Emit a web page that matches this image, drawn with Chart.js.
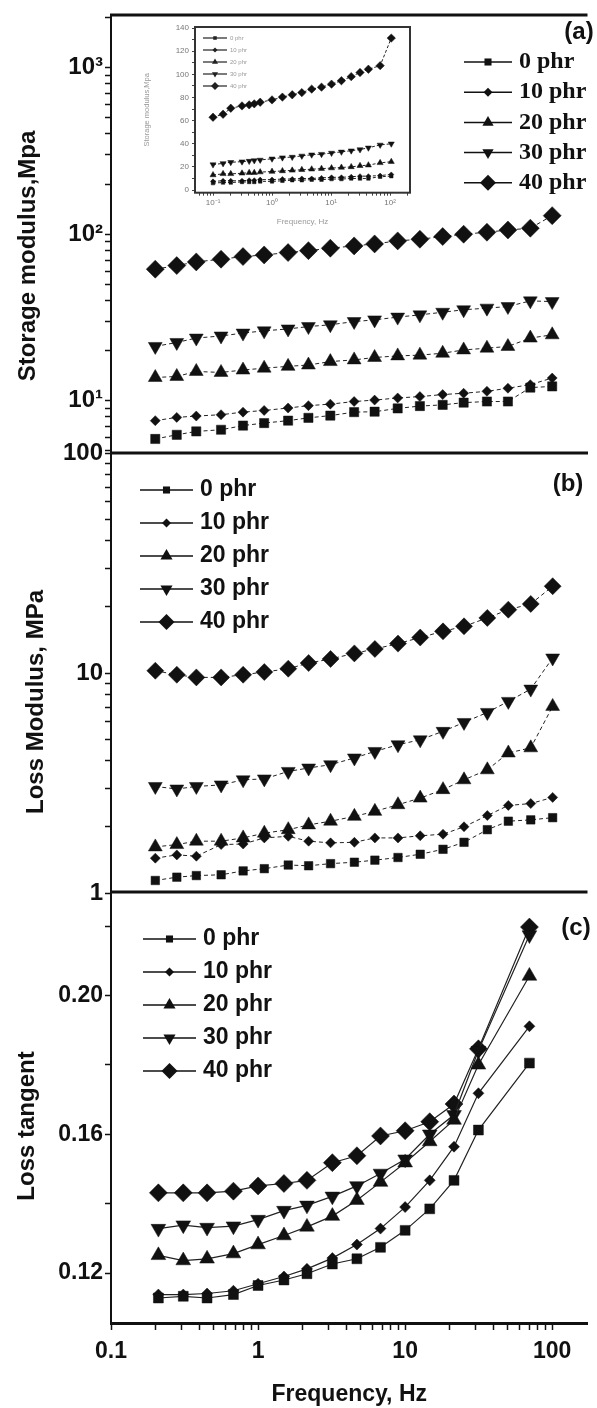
<!DOCTYPE html>
<html>
<head>
<meta charset="utf-8">
<script src="https://cdn.jsdelivr.net/npm/chart.js@4.4.1/dist/chart.umd.min.js"></script>
<style>
  html, body { margin: 0; padding: 0; background: #fff; }
  #wrap { position: relative; width: 597px; height: 1408px; overflow: hidden; }
  canvas { position: absolute; }
</style>
</head>
<body>
<div id="wrap">
  <canvas id="panelA" width="597" height="1408" style="left:0;top:0;width:597px;height:1408px"></canvas>
  <canvas id="panelB" width="597" height="1408" style="left:0;top:0;width:597px;height:1408px"></canvas>
  <canvas id="panelC" width="597" height="1408" style="left:0;top:0;width:597px;height:1408px"></canvas>
  <canvas id="inset" width="290" height="215" style="left:140px;top:20px;width:290px;height:215px"></canvas>
</div>
<script>
// frequencies (Hz)
var freqAB = [0.2, 0.28, 0.38, 0.56, 0.79, 1.1, 1.6, 2.2, 3.1, 4.5, 6.2, 8.9, 12.6, 18, 25, 36, 50, 71, 100];
var freqC = [0.21, 0.31, 0.45, 0.68, 1.0, 1.5, 2.15, 3.2, 4.7, 6.8, 10, 14.7, 21.5, 31.5, 70];
var insetFreq = [0.1, 0.148, 0.2, 0.31, 0.41, 0.5, 0.63, 1.0, 1.5, 2.2, 3.2, 4.7, 6.9, 10.2, 15, 22, 31, 43, 68, 105];

var seriesLabels = ['0 phr', '10 phr', '20 phr', '30 phr', '40 phr'];

// (a) storage modulus, MPa
var storage0 = [5.9, 6.25, 6.55, 6.7, 7.1, 7.35, 7.6, 7.9, 8.15, 8.55, 8.6, 9.0, 9.3, 9.45, 9.75, 9.9, 9.9, 12.0, 12.2];
var storage10 = [7.6, 7.95, 8.1, 8.25, 8.55, 8.75, 9.05, 9.35, 9.55, 9.9, 10.1, 10.4, 10.6, 10.9, 11.1, 11.4, 11.9, 12.5, 13.7];
var storage20 = [13.8, 14.0, 15.0, 14.8, 15.3, 15.7, 16.1, 16.4, 17.2, 17.6, 18.2, 18.6, 18.8, 19.3, 20.2, 20.7, 21.2, 23.8, 24.9];
var storage30 = [21.2, 22.4, 23.8, 24.5, 25.5, 26.3, 27.0, 27.9, 28.6, 29.9, 30.6, 31.8, 32.8, 34.0, 35.2, 36.0, 36.8, 39.8, 39.4];
var storage40 = [61.7, 64.8, 68.2, 70.8, 73.4, 75.1, 77.6, 79.7, 82.4, 85.1, 87.5, 91.2, 93.3, 96.8, 100, 102.8, 106, 108.7, 129.3];

// (b) loss modulus, MPa
var loss0 = [1.14, 1.18, 1.20, 1.21, 1.26, 1.29, 1.34, 1.33, 1.36, 1.38, 1.41, 1.45, 1.50, 1.58, 1.70, 1.94, 2.12, 2.15, 2.2];
var loss10 = [1.44, 1.49, 1.47, 1.66, 1.67, 1.78, 1.81, 1.72, 1.69, 1.70, 1.78, 1.78, 1.82, 1.85, 2.0, 2.25, 2.5, 2.55, 2.72];
var loss20 = [1.62, 1.66, 1.72, 1.72, 1.78, 1.87, 1.94, 2.04, 2.12, 2.23, 2.35, 2.52, 2.70, 2.95, 3.27, 3.63, 4.33, 4.57, 7.05];
var loss30 = [3.05, 2.97, 3.05, 3.10, 3.27, 3.3, 3.57, 3.70, 3.83, 4.11, 4.40, 4.72, 4.97, 5.43, 5.96, 6.62, 7.43, 8.45, 11.7];
var loss40 = [10.24, 9.82, 9.55, 9.55, 9.82, 10.1, 10.46, 11.1, 11.58, 12.28, 12.86, 13.6, 14.5, 15.46, 16.3, 17.8, 19.4, 20.6, 24.8];

// (c) loss tangent
var tan0 = [0.1128, 0.1133, 0.1128, 0.1138, 0.1164, 0.1180, 0.1198, 0.1226, 0.1241, 0.1274, 0.1323, 0.1385, 0.1467, 0.1612, 0.1805];
var tan10 = [0.1138, 0.1138, 0.1141, 0.1149, 0.1169, 0.1190, 0.1212, 0.1243, 0.1282, 0.1328, 0.1390, 0.1467, 0.1564, 0.1718, 0.1911];
var tan20 = [0.1251, 0.1236, 0.1241, 0.1256, 0.1282, 0.1308, 0.1333, 0.1364, 0.1410, 0.1462, 0.1518, 0.1579, 0.1641, 0.1800, 0.2056];
var tan30 = [0.1328, 0.1338, 0.1331, 0.1335, 0.1354, 0.1380, 0.1395, 0.1421, 0.1451, 0.1487, 0.1528, 0.1600, 0.1656, 0.1841, 0.2174];
var tan40 = [0.1431, 0.1431, 0.1431, 0.1436, 0.1451, 0.1458, 0.1467, 0.1518, 0.1538, 0.1595, 0.1610, 0.1636, 0.1687, 0.1846, 0.2197];

// inset (storage modulus, linear axis)
var inset0 = [6, 6.5, 6.5, 7, 7, 7, 7.5, 7.5, 8, 8.5, 8.5, 9, 9, 9.5, 9.5, 10, 10, 10, 11.5, 12];
var inset10 = [7.5, 8, 8, 8, 8.5, 8.5, 9, 9, 9.5, 9.5, 10, 10, 10.5, 11, 11, 11.5, 12, 12, 12.5, 13.5];
var inset20 = [13, 14, 14, 14.5, 15, 15, 15.5, 16, 16.5, 17, 17.5, 18, 18.5, 19, 19.5, 20, 21, 21.5, 23.5, 24.5];
var inset30 = [22, 23, 24, 24.5, 25, 25.5, 26, 27, 28, 28.5, 29.5, 30.5, 31, 32, 33, 34, 35, 36.5, 39, 40];
var inset40 = [62.9, 65.5, 70.7, 72.7, 73.6, 74.5, 75.9, 77.9, 80.3, 82.3, 84.2, 87.2, 88.9, 91.5, 94.5, 98, 101.6, 104.4, 107.5, 131.3];

// tick positions and labels
var xTicks = [0.1, 0.2, 0.3, 0.4, 0.5, 0.6, 0.7, 0.8, 0.9, 1, 2, 3, 4, 5, 6, 7, 8, 9, 10, 20, 30, 40, 50, 60, 70, 80, 90, 100];
var xMajor = [0.1, 1, 10, 100];
var xLabels = ['0.1', '1', '10', '100'];
var aTicks = [5, 6, 7, 8, 9, 10, 20, 30, 40, 50, 60, 70, 80, 90, 100, 200, 300, 400, 500, 600, 700, 800, 900, 1000, 2000];
var aMajor = [10, 100, 1000];
var aLabels = ['10¹', '10²', '10³'];
var bTicks = [1, 2, 3, 4, 5, 6, 7, 8, 9, 10, 20, 30, 40, 50, 60, 70, 80, 90, 100];
var bMajor = [1, 10, 100];
var bLabels = ['1', '10', '100'];
var cTicks = [0.12, 0.14, 0.16, 0.18, 0.2, 0.22];
var cMajor = [0.12, 0.16, 0.2];
var cLabels = ['0.12', '0.16', '0.20'];
var insetXTicks = [0.06, 0.07, 0.08, 0.09, 0.1, 0.2, 0.3, 0.4, 0.5, 0.6, 0.7, 0.8, 0.9, 1, 2, 3, 4, 5, 6, 7, 8, 9, 10, 20, 30, 40, 50, 60, 70, 80, 90, 100, 200];
var insetXMajor = [0.1, 1, 10, 100];
var insetXLabels = ['10⁻¹', '10⁰', '10¹', '10²'];
var insetYTicks = [0, 10, 20, 30, 40, 50, 60, 70, 80, 90, 100, 110, 120, 130, 140];
var insetYMajor = [0, 20, 40, 60, 80, 100, 120, 140];

var markerShapes = ['rect', 'rectRot', 'triangle', 'triangle', 'rectRot'];
var markerRot = [0, 0, 0, 180, 0];

Chart.defaults.font.family = '"Liberation Sans", Arial, sans-serif';
Chart.defaults.color = '#111';

function buildSets(freq, list, radii, width, dash) {
  return list.map(function (vals, i) {
    return {
      label: seriesLabels[i],
      data: vals.map(function (v, k) { return { x: freq[k], y: v }; }),
      pointStyle: markerShapes[i],
      pointRotation: markerRot[i],
      pointRadius: radii[i],
      pointBackgroundColor: '#111',
      pointBorderColor: '#111',
      pointBorderWidth: 0.5,
      borderColor: '#222',
      borderWidth: width,
      borderDash: dash,
      showLine: true,
      fill: false
    };
  });
}

function labelFrom(major, labels) {
  return function (v) {
    var k = major.indexOf(v);
    return k >= 0 ? labels[k] : '';
  };
}

function useTicks(list) {
  return function (scale) {
    scale.ticks = list.map(function (v) { return { value: v }; });
  };
}

function drawLegend(chart, lg) {
  var ctx = chart.ctx;
  chart.data.datasets.forEach(function (ds, i) {
    var y = lg.y + i * lg.dy;
    ctx.strokeStyle = lg.color;
    ctx.fillStyle = lg.color;
    ctx.lineWidth = lg.lineWidth;
    ctx.beginPath();
    ctx.moveTo(lg.x, y);
    ctx.lineTo(lg.x + lg.len, y);
    ctx.stroke();
    Chart.helpers.drawPoint(ctx, {
      pointStyle: ds.pointStyle, rotation: ds.pointRotation, radius: lg.radii[i], borderWidth: 0
    }, lg.x + lg.len / 2, y);
    ctx.fillStyle = lg.textColor;
    ctx.font = lg.font;
    ctx.textAlign = 'left';
    ctx.textBaseline = 'middle';
    ctx.fillText(ds.label, lg.x + lg.len + lg.gap, y);
  });
}

var decor = {
  id: 'decor',
  afterDraw: function (chart, args, o) {
    var ctx = chart.ctx, a = chart.chartArea;
    ctx.save();
    if (o.topLine) {
      ctx.strokeStyle = '#111';
      ctx.lineWidth = 3;
      ctx.beginPath();
      ctx.moveTo(a.left - 1, a.top);
      ctx.lineTo(a.right, a.top);
      ctx.stroke();
    }
    if (o.box) {
      ctx.strokeStyle = '#333';
      ctx.lineWidth = 2;
      ctx.strokeRect(a.left, a.top, a.right - a.left, a.bottom - a.top);
    }
    if (o.tag) {
      ctx.fillStyle = '#111';
      ctx.font = o.tag.font;
      ctx.textAlign = 'center';
      ctx.textBaseline = 'middle';
      ctx.fillText(o.tag.text, o.tag.x, o.tag.y);
    }
    if (o.side) {
      ctx.save();
      ctx.translate(o.side.x, o.side.y);
      ctx.rotate(-Math.PI / 2);
      ctx.fillStyle = '#111';
      ctx.font = o.side.font;
      ctx.textAlign = 'center';
      ctx.textBaseline = 'middle';
      ctx.fillText(o.side.text, 0, 0);
      ctx.restore();
    }
    if (o.legend) drawLegend(chart, o.legend);
    ctx.restore();
  }
};

function yAxis(type, min, max, ticks, major, labels, labelSize) {
  return {
    type: type, min: min, max: max,
    afterBuildTicks: useTicks(ticks),
    afterFit: function (s) { s.width = 111; s.paddingTop = 0; s.paddingBottom = 0; },
    grid: { drawOnChartArea: false, drawTicks: true, tickLength: 6, tickColor: '#111', tickWidth: 1.5 },
    border: { display: true, color: '#111', width: 2 },
    ticks: { autoSkip: false, padding: 2, font: { size: labelSize, weight: 'bold' }, color: '#111', callback: labelFrom(major, labels) }
  };
}

var hiddenX = { type: 'logarithmic', min: 0.1, max: 173.8, display: false };

function mainChart(id, datasets, padding, y, x, extra) {
  return new Chart(document.getElementById(id), {
    type: 'scatter',
    data: { datasets: datasets },
    options: {
      responsive: false,
      animation: false,
      devicePixelRatio: 1,
      events: [],
      layout: { padding: padding },
      scales: { x: x, y: y },
      plugins: { legend: { display: false }, tooltip: { enabled: false }, decor: extra }
    },
    plugins: [decor]
  });
}

// (a) storage modulus
mainChart('panelA',
  buildSets(freqAB, [storage0, storage10, storage20, storage30, storage40], [6.5, 5, 8, 8, 9], 1, [4, 3]),
  { top: 15, bottom: 955, left: 0, right: 0 },
  yAxis('logarithmic', 4.86, 2070, aTicks, aMajor, aLabels, 24),
  hiddenX,
  {
    topLine: true,
    side: { text: 'Storage modulus,Mpa', x: 28, y: 256, font: 'bold 24px "Liberation Sans"' },
    tag: { text: '(a)', x: 579, y: 32, font: 'bold 24px "Liberation Sans"' },
    legend: { x: 464, y: 62, dy: 30.2, len: 48, gap: 7, lineWidth: 1.5, color: '#111', textColor: '#111',
      radii: [5, 4.5, 6.5, 6.5, 8], font: 'bold 24px "Liberation Serif"' }
  });

// (b) loss modulus
mainChart('panelB',
  buildSets(freqAB, [loss0, loss10, loss20, loss30, loss40], [6, 5, 8, 8, 8.5], 1, [4, 3]),
  { top: 453, bottom: 515, left: 0, right: 0 },
  yAxis('logarithmic', 1, 100, bTicks, bMajor, bLabels, 24),
  hiddenX,
  {
    topLine: true,
    side: { text: 'Loss Modulus, MPa', x: 36, y: 702, font: 'bold 24px "Liberation Sans"' },
    tag: { text: '(b)', x: 568, y: 484, font: 'bold 24px "Liberation Sans"' },
    legend: { x: 140, y: 490, dy: 33, len: 53, gap: 7, lineWidth: 1.5, color: '#111', textColor: '#111',
      radii: [5, 4.5, 7, 7, 8], font: 'bold 23px "Liberation Sans"' }
  });

// (c) loss tangent with the shared frequency axis
mainChart('panelC',
  buildSets(freqC, [tan0, tan10, tan20, tan30, tan40], [7, 5.5, 8.5, 8.5, 9], 1.2, []),
  { top: 892, bottom: 0, left: 0, right: 0 },
  yAxis('linear', 0.1056, 0.2298, cTicks, cMajor, cLabels, 23),
  {
    type: 'logarithmic', min: 0.1, max: 173.8,
    afterBuildTicks: useTicks(xTicks),
    afterFit: function (s) { s.height = 85; s.paddingLeft = 0; s.paddingRight = 0; },
    grid: { drawOnChartArea: false, drawTicks: true, tickLength: 7, tickColor: '#111', tickWidth: 1.5 },
    border: { display: true, color: '#111', width: 3 },
    ticks: { autoSkip: false, maxRotation: 0, padding: 8, font: { size: 23, weight: 'bold' }, color: '#111', callback: labelFrom(xMajor, xLabels) },
    title: { display: true, text: 'Frequency, Hz', font: { size: 23, weight: 'bold' }, color: '#111', padding: { top: 0, bottom: 0 } }
  },
  {
    topLine: true,
    side: { text: 'Loss tangent', x: 27, y: 1126, font: 'bold 24px "Liberation Sans"' },
    tag: { text: '(c)', x: 576, y: 928, font: 'bold 24px "Liberation Sans"' },
    legend: { x: 143, y: 939, dy: 33, len: 53, gap: 7, lineWidth: 1.5, color: '#111', textColor: '#111',
      radii: [5, 4.5, 7, 7, 8], font: 'bold 23px "Liberation Sans"' }
  });

// inset: storage modulus on a linear axis
new Chart(document.getElementById('inset'), {
  type: 'scatter',
  data: { datasets: buildSets(insetFreq, [inset0, inset10, inset20, inset30, inset40], [2.5, 2.5, 3.5, 3.5, 4.2], 1, [3, 2]) },
  options: {
    responsive: false,
    animation: false,
    devicePixelRatio: 1,
    events: [],
    layout: { padding: { top: 7, right: 20, bottom: 0, left: 0 } },
    scales: {
      x: {
        type: 'logarithmic', min: 0.0495, max: 218,
        afterBuildTicks: useTicks(insetXTicks),
        afterFit: function (s) { s.height = 42.3; s.paddingLeft = 0; s.paddingRight = 0; },
        grid: { drawOnChartArea: false, tickLength: 3, tickColor: '#444' },
        border: { display: false },
        ticks: { autoSkip: false, maxRotation: 0, padding: 2, font: { size: 8 }, color: '#777', callback: labelFrom(insetXMajor, insetXLabels) },
        title: { display: true, text: 'Frequency, Hz', font: { size: 8 }, color: '#999', padding: { top: 0, bottom: 8 } }
      },
      y: {
        type: 'linear', min: -2.3, max: 140.9,
        afterBuildTicks: useTicks(insetYTicks),
        afterFit: function (s) { s.width = 55; s.paddingTop = 0; s.paddingBottom = 0; },
        grid: { drawOnChartArea: false, tickLength: 3, tickColor: '#444' },
        border: { display: false },
        ticks: { autoSkip: false, padding: 3, font: { size: 8 }, color: '#777',
          callback: function (v) { return insetYMajor.indexOf(v) >= 0 ? String(v) : ''; } },
        title: { display: true, text: 'Storage modulus,Mpa', font: { size: 7.5 }, color: '#999', padding: { top: 2, bottom: 0 } }
      }
    },
    plugins: {
      legend: { display: false },
      tooltip: { enabled: false },
      decor: {
        box: true,
        legend: { x: 63, y: 18, dy: 12, len: 24, gap: 3, lineWidth: 1.2, color: '#222', textColor: '#999',
          radii: [2.5, 2.5, 3.5, 3.5, 4], font: '6px "Liberation Sans"' }
      }
    }
  },
  plugins: [decor]
});
</script>
</body>
</html>
